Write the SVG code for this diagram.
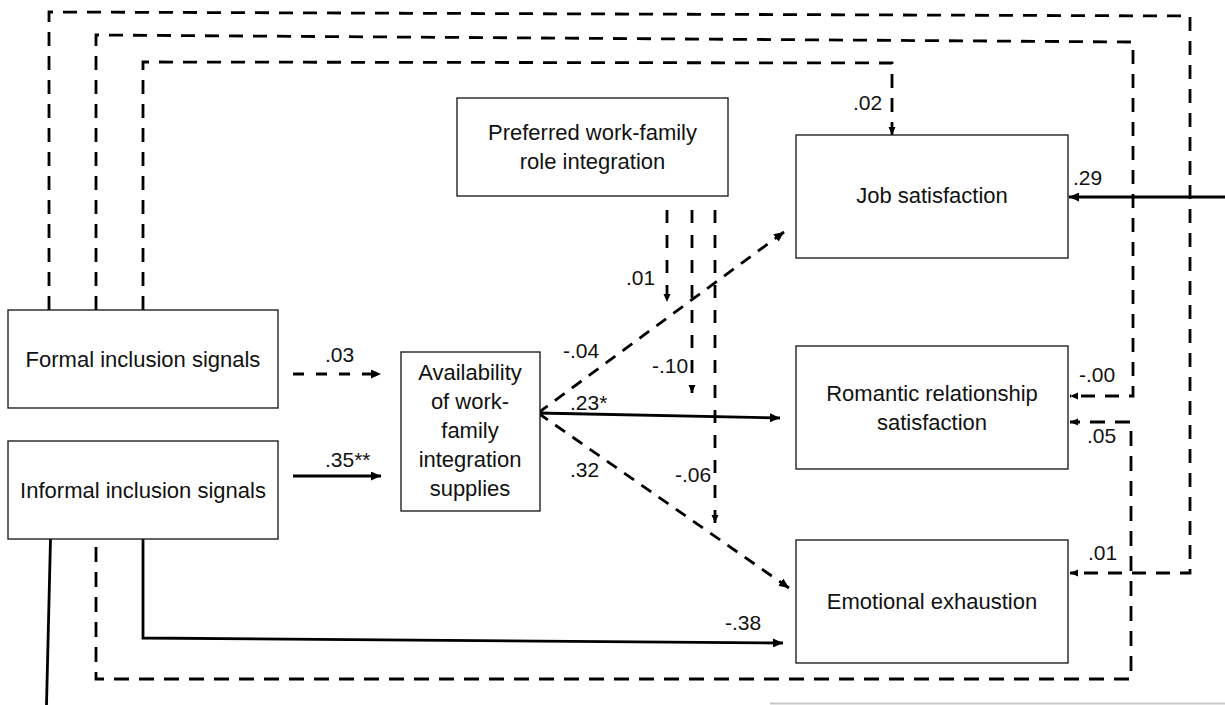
<svg xmlns="http://www.w3.org/2000/svg" width="1225" height="705" viewBox="0 0 1225 705">
<style>
.box{fill:#fff;stroke:#222;stroke-width:1.4}
.t{font-family:"Liberation Sans",Arial,sans-serif;font-size:22px;fill:#111;text-anchor:middle}
.l{font-family:"Liberation Sans",Arial,sans-serif;font-size:21px;fill:#111}
.c{fill:none;stroke:#000;stroke-width:2.8}
.loop{stroke-dasharray:14 10}
.loopb{stroke-dasharray:15 10}
.mod{stroke-dasharray:13 12}
.dd{stroke-dasharray:12 9}
</style>
<defs>
<marker id="a" markerUnits="userSpaceOnUse" markerWidth="11" markerHeight="9" refX="10" refY="4.5" orient="auto"><path d="M0,0 L10,4.5 L0,9 z" fill="#000"/></marker>
<marker id="s" markerUnits="userSpaceOnUse" markerWidth="9" markerHeight="8" refX="8" refY="3.5" orient="auto"><path d="M0,0 L8,3.5 L0,7 z" fill="#000"/></marker>
</defs>
<rect width="1225" height="705" fill="#fff"/>
<g id="connectors">
<polyline class="c loop" points="49,310 49,12 1190,16 1190,573 1070,573" marker-end="url(#s)"/>
<polyline class="c loop" points="96,310 96,35 1133,42 1133,396 1070,396" marker-end="url(#s)"/>
<polyline class="c loop" points="143,310 143,62 892,63 892,135" marker-end="url(#s)"/>
<polyline class="c loopb" points="96,547 96,679 1131,679 1131,422 1070,422" marker-end="url(#s)"/>
<polyline class="c" points="143,539 143,638 783,643" marker-end="url(#a)"/>
<line class="c" x1="50.5" y1="539" x2="46.5" y2="705"/>
<line class="c" x1="293" y1="374" x2="381" y2="374" stroke-dasharray="11 12" marker-end="url(#a)"/>
<line class="c" x1="293" y1="476" x2="381" y2="476" marker-end="url(#a)"/>
<line class="c dd" x1="538" y1="413" x2="784" y2="232" marker-end="url(#a)"/>
<line class="c" x1="538" y1="413" x2="780" y2="418" marker-end="url(#a)"/>
<line class="c dd" x1="538" y1="413" x2="789" y2="588" marker-end="url(#a)"/>
<line class="c mod" x1="667" y1="210" x2="667" y2="302" marker-end="url(#s)"/>
<line class="c mod" x1="692" y1="210" x2="692" y2="393" marker-end="url(#s)"/>
<line class="c mod" x1="715" y1="210" x2="715" y2="523" marker-end="url(#s)"/>
<line class="c" x1="1225" y1="197" x2="1069" y2="197" marker-end="url(#a)"/>
<line x1="770" y1="703.5" x2="1225" y2="703.5" stroke="#c8c8c8" stroke-width="2"/>
</g>
<g id="labels">
<text class="l" x="325" y="362">.03</text>
<text class="l" x="325" y="467">.35**</text>
<text class="l" x="563" y="358">-.04</text>
<text class="l" x="570" y="410">.23*</text>
<text class="l" x="570" y="477">.32</text>
<text class="l" x="626" y="285">.01</text>
<text class="l" x="652" y="373">-.10</text>
<text class="l" x="675" y="482">-.06</text>
<text class="l" x="725" y="630">-.38</text>
<text class="l" x="853" y="110">.02</text>
<text class="l" x="1073" y="185">.29</text>
<text class="l" x="1079" y="382">-.00</text>
<text class="l" x="1087" y="443">.05</text>
<text class="l" x="1088" y="560">.01</text>
</g>
<g id="formal"><rect class="box" x="8" y="310" width="270" height="98"/><text class="t" x="143" y="367">Formal inclusion signals</text></g>
<g id="informal"><rect class="box" x="8" y="441" width="270" height="98"/><text class="t" x="143" y="498">Informal inclusion signals</text></g>
<g id="availability"><rect class="box" x="401" y="352" width="139" height="159"/>
<text class="t" x="470" y="380">Availability</text><text class="t" x="470" y="409">of work-</text><text class="t" x="470" y="438">family</text><text class="t" x="470" y="467">integration</text><text class="t" x="470" y="496">supplies</text></g>
<g id="preferred"><rect class="box" x="457" y="98" width="271" height="98"/><text class="t" x="592.5" y="140">Preferred work-family</text><text class="t" x="592.5" y="169">role integration</text></g>
<g id="job"><rect class="box" x="796" y="135" width="272" height="123"/><text class="t" x="932" y="203">Job satisfaction</text></g>
<g id="romantic"><rect class="box" x="796" y="346" width="272" height="123"/><text class="t" x="932" y="401">Romantic relationship</text><text class="t" x="932" y="430">satisfaction</text></g>
<g id="emotional"><rect class="box" x="796" y="540" width="272" height="123"/><text class="t" x="932" y="609">Emotional exhaustion</text></g>
</svg>
